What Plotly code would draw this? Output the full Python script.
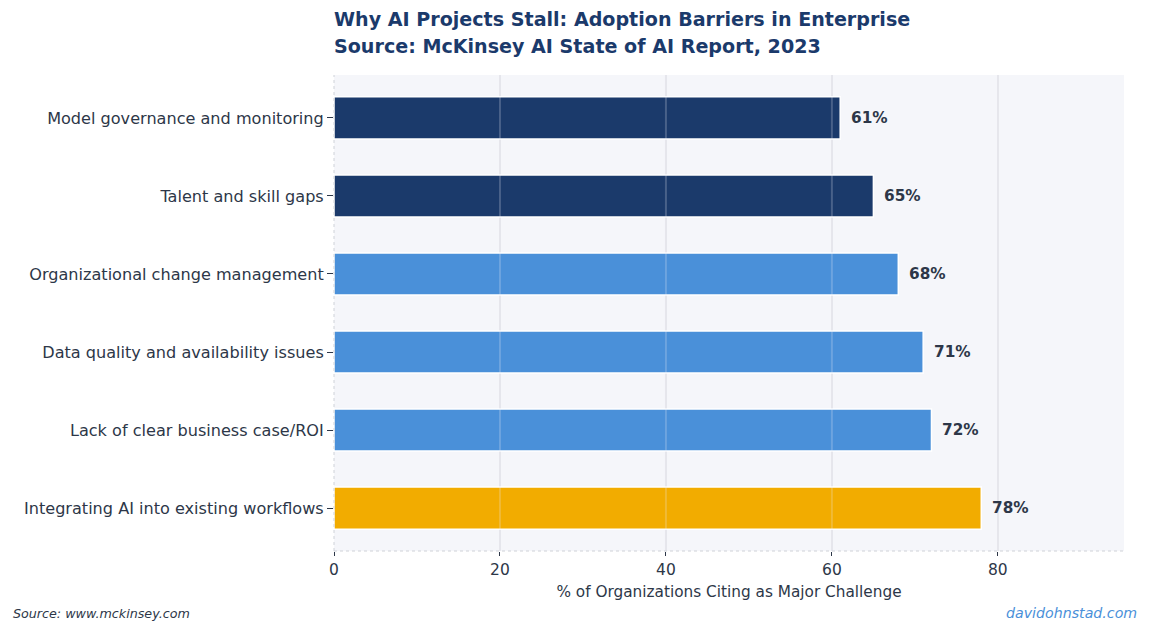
import plotly.graph_objects as go

categories = [
    "Integrating AI into existing workflows",
    "Lack of clear business case/ROI",
    "Data quality and availability issues",
    "Organizational change management",
    "Talent and skill gaps",
    "Model governance and monitoring",
]
values = [78, 72, 71, 68, 65, 61]
bar_colors = ["#F2AC00", "#4A90D9", "#4A90D9", "#4A90D9", "#1B3A6B", "#1B3A6B"]
x_ticks = [0, 20, 40, 60, 80]

title_lines = [
    "Why AI Projects Stall: Adoption Barriers in Enterprise",
    "Source: McKinsey AI State of AI Report, 2023",
]
x_title = "% of Organizations Citing as Major Challenge"
source_text = "Source: www.mckinsey.com"
brand_text = "davidohnstad.com"

FONT = "DejaVu Sans, Verdana, sans-serif"
TEXT = "#2D3748"
NAVY = "#1B3A6B"

W, H = 1150, 631
ML, MR, MT, MB = 334, 26, 75, 80
plot_w = W - ML - MR
plot_h = H - MT - MB


def px_x(px):
    return (px - ML) / plot_w


def px_y(py):
    return (H - MB - py) / plot_h


fig = go.Figure()
fig.add_trace(go.Bar(
    x=values, y=categories, orientation="h",
    marker=dict(color=bar_colors, line=dict(color="white", width=1.5)),
    width=0.54,
    hoverinfo="x+y",
))

annotations = []
for c, v in zip(categories, values):
    annotations.append(dict(
        x=v, y=c, xref="x", yref="y", text=f"<b>{v}%</b>", showarrow=False,
        xanchor="left", yanchor="middle", xshift=9,
        font=dict(family=FONT, size=15.3, color=TEXT),
    ))
for line, cy in zip(title_lines, [20, 47]):
    annotations.append(dict(
        x=px_x(332), y=px_y(cy), xref="paper", yref="paper", xanchor="left", yanchor="middle",
        text=f"<b>{line}</b>", showarrow=False,
        font=dict(family=FONT, size=19.1, color=NAVY),
    ))
annotations.append(dict(
    x=px_x(11), y=px_y(613), xref="paper", yref="paper",
    xanchor="left", yanchor="middle",
    text=f"<i>{source_text}</i>", showarrow=False,
    font=dict(family=FONT, size=12.7, color=TEXT),
))
annotations.append(dict(
    x=px_x(1139), y=px_y(613), xref="paper", yref="paper",
    xanchor="right", yanchor="middle",
    text=f"<i>{brand_text}</i>", showarrow=False,
    font=dict(family=FONT, size=14.2, color="#4A90D9"),
))

shapes = [
    dict(type="line", xref="paper", yref="paper", x0=0, x1=0, y0=0, y1=1,
         line=dict(color="#CFD2D8", width=1, dash="dot"), layer="above"),
    dict(type="line", xref="paper", yref="paper", x0=0, x1=1, y0=0, y1=0,
         line=dict(color="#CFD2D8", width=1, dash="dot"), layer="above"),
]
# translucent grid overlay drawn above bars, at the tick positions
for t in x_ticks[1:]:
    shapes.append(dict(type="line", xref="x", yref="paper", x0=t, x1=t, y0=0, y1=1,
                       line=dict(color="rgba(235,238,245,0.22)", width=2), layer="above"))

fig.update_layout(
    width=W, height=H,
    margin=dict(l=ML, r=MR, t=MT, b=MB),
    paper_bgcolor="white",
    plot_bgcolor="#F5F6FA",
    showlegend=False,
    font=dict(family=FONT, color=TEXT),
    xaxis=dict(
        range=[0, 95.2], tickvals=x_ticks, ticktext=[str(t) for t in x_ticks],
        showgrid=True, gridcolor="#E4E5EA", gridwidth=2,
        zeroline=False, showline=False,
        ticks="outside", ticklen=4, tickcolor=TEXT, tickwidth=1,
        tickfont=dict(family=FONT, size=15.5, color=TEXT),
        title=dict(text=x_title, font=dict(family=FONT, size=15.3, color=TEXT), standoff=8),
    ),
    yaxis=dict(
        range=[-0.55, 5.55], type="category",
        showgrid=False, zeroline=False, showline=False,
        ticks="outside", ticklen=6, tickcolor=TEXT, tickwidth=1,
        tickfont=dict(family=FONT, size=16.1, color=TEXT),
    ),
    annotations=annotations,
    shapes=shapes,
)

fig.write_html("out.html")
